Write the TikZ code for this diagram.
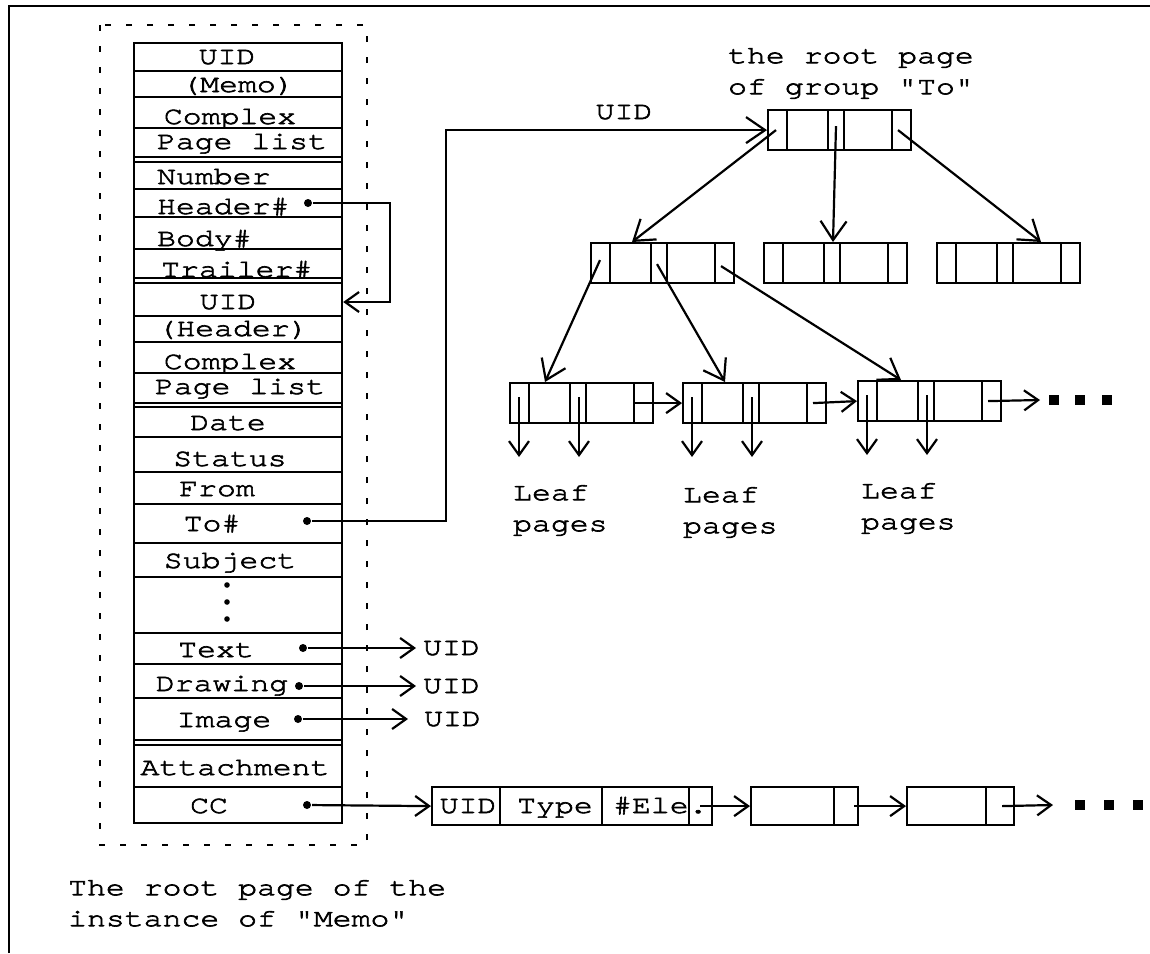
\documentclass[tikz,border=0pt]{standalone}
\usepackage{fontspec}
\setmonofont[FakeStretch=1.26, FakeBold=2.5]{TeX Gyre Cursor}
\usetikzlibrary{arrows.meta, calc}

\tikzset{
  lbl/.style={font=\ttfamily\fontsize{25}{31}\selectfont, inner sep=0pt, text height=14pt, text depth=0pt},
  note/.style={font=\ttfamily\fontsize{25}{31}\selectfont, inner sep=0pt, align=left, anchor=north west},
  ptr/.style={-{Straight Barb[length=14pt,width=20pt]}},
  bigptr/.style={-{Straight Barb[length=19pt,width=26pt]}},
  dot/.style={circle, fill, inner sep=0pt, minimum size=8pt},
  bpage/.style={draw, rectangle, inner sep=0pt, minimum width=143pt, minimum height=40pt, anchor=north west},
  cpage/.style={draw, rectangle, inner sep=0pt, minimum height=38pt, anchor=north west},
}

% one B-tree page: pointer | key | pointer | key | pointer
\newcommand{\bpagenode}[2]{%
  \node[bpage] (#1) at (#2) {};
  \foreach \dx in {20,61,77,125}
    \draw ([xshift=\dx pt]#1.north west) -- ([xshift=\dx pt]#1.south west);
}

\begin{document}
\begin{tikzpicture}[x=1pt, y=-1pt, line width=2.2pt]
  \useasboundingbox (0,0) rectangle (1150,953);
  \draw[line width=2.6pt] (9,953) -- (9,6) -- (1150,6);

  % root page of the instance
  \draw[dash pattern=on 6pt off 15pt, line width=2.2pt] (100,25) rectangle (367,845);
  \node[draw, inner sep=0pt, minimum width=208pt, minimum height=780pt, anchor=north west] (page) at (133,42) {};
  \foreach \y in {71,97,128,157,162,189,217,249,278,283,316,342,373,403,407,437,472,504,543,577,633,664,698,740,745,787}
    \draw (133,\y) -- (341,\y);

  \node[lbl] (uidA) at (227,57) {UID};
  \node[lbl] (memo) at (238,85) {(Memo)};
  \node[lbl] (cplxA) at (230,117) {Complex};
  \node[lbl] (plistA) at (242,142) {Page list};
  \node[lbl, anchor=west] (number) at (156,177) {Number};
  \node[lbl, anchor=west] (header) at (156,207) {Header\#};
  \node[lbl, anchor=west] (body) at (156,239) {Body\#};
  \node[lbl, anchor=west] (trailer) at (160,270) {Trailer\#};
  \node[lbl] (uidB) at (228,302) {UID};
  \node[lbl] (hdr) at (233,329) {(Header)};
  \node[lbl] (cplxB) at (230,362) {Complex};
  \node[lbl] (plistB) at (240,387) {Page list};
  \node[lbl] (date) at (228,423) {Date};
  \node[lbl] (status) at (230,459) {Status};
  \node[lbl] (from) at (217,489) {From};
  \node[lbl] (to) at (212,524) {To\#};
  \node[lbl] (subject) at (230,561) {Subject};
  \foreach \y in {585,602,619}
    \fill (227,\y) circle (2.8pt);
  \node[lbl] (text) at (216,650) {Text};
  \node[lbl] (drawing) at (222,684) {Drawing};
  \node[lbl] (image) at (224,720) {Image};
  \node[lbl] (attach) at (235,768) {Attachment};
  \node[lbl] (cc) at (209,806) {CC};

  \node[note] (caption) at (67,879) {The root page of the\\instance of "Memo"};

  % header link
  \node[dot] (hdrdot) at (308,203) {};
  \draw[ptr] (hdrdot) -- ++(82,0) |- (uidB -| page.east);

  % group "To"
  \bpagenode{root}{767,109}
  \bpagenode{midA}{590,242}
  \bpagenode{midB}{763,242}
  \bpagenode{midC}{936,242}
  \bpagenode{leafA}{509,382}
  \bpagenode{leafB}{682,382}
  \bpagenode{leafC}{857,380}
  \node[note] (rootlbl) at (727,47) {the root page\\of group "To"};

  \node[dot] (todot) at (307,521) {};
  \draw[bigptr] (todot) -- ++(139,0) |- (root.west);
  \node[lbl] (uidlink) at (624,112) {UID};

  \draw[bigptr] ($(root.west)+(9,0)$) -- ($(midA.north west)+(42,0)$);
  \draw[bigptr] ($(root.west)+(69,-4)$) -- ($(midB.north west)+(70,0)$);
  \draw[bigptr] ($(root.west)+(131,0)$) -- ($(midC.north west)+(105,0)$);
  \draw[bigptr] ($(midA.west)+(10,-3)$) -- ($(leafA.north west)+(36,0)$);
  \draw[bigptr] ($(midA.west)+(67,1)$) -- ($(leafB.north west)+(43,0)$);
  \draw[bigptr] ($(midA.west)+(131,3)$) -- ($(leafC.north west)+(44,0)$);

  \draw[ptr] ($(leafA.west)+(125,0)$) -- (leafB.west);
  \draw[ptr] ($(leafB.west)+(131,0)$) -- (leafC.west);
  \coordinate (leafmore) at (1040,400);
  \draw[ptr] ($(leafC.west)+(131,0)$) -- (leafmore);
  \foreach \x in {1054,1080,1107}
    \fill (\x-5,395) rectangle ++(10,10);

  \foreach \n in {leafA,leafB,leafC}
    \foreach \dx in {10,70}
      \draw[ptr] ([xshift=\dx pt, yshift=-15pt]\n.north west) -- ++(0,60);

  \node[note] (leafpgA) at (512,484) {Leaf\\pages};
  \node[note] (leafpgB) at (682,486) {Leaf\\pages};
  \node[note] (leafpgC) at (860,482) {Leaf\\pages};

  % long fields
  \node[dot] (txtdot) at (303,648) {};
  \node[lbl, anchor=west] (uidtxt) at (422,648) {UID};
  \draw[ptr] (txtdot) -- ([xshift=-6pt]uidtxt.west);
  \node[dot] (drwdot) at (299,686) {};
  \node[lbl, anchor=west] (uiddrw) at (422,686) {UID};
  \draw[ptr] (drwdot) -- ([xshift=-6pt]uiddrw.west);
  \node[dot] (imgdot) at (298,719) {};
  \node[lbl, anchor=west] (uidimg) at (423,719) {UID};
  \draw[ptr] (imgdot) -- ([xshift=-15pt]uidimg.west);

  % CC list
  \node[cpage, minimum width=280pt] (ccA) at (431,786) {};
  \foreach \dx in {69,171,258}
    \draw ([xshift=\dx pt]ccA.north west) -- ([xshift=\dx pt]ccA.south west);
  \node[lbl] (ccuid) at (468,806) {UID};
  \node[lbl] (cctype) at (555,806) {Type};
  \node[lbl, anchor=west] (ccele) at (612,806) {\#Ele.};
  \node[cpage, minimum width=107pt] (ccB) at (750,786) {};
  \draw ([xshift=84pt]ccB.north west) -- ([xshift=84pt]ccB.south west);
  \node[cpage, minimum width=107pt] (ccC) at (906,786) {};
  \draw ([xshift=80pt]ccC.north west) -- ([xshift=80pt]ccC.south west);

  \node[dot] (ccdot) at (307,805) {};
  \draw[ptr] (ccdot) -- (ccA.west);
  \draw[ptr] ($(ccA.east)+(-13,0)$) -- (ccB.west);
  \draw[ptr] ($(ccB.east)+(-5,0)$) -- (ccC.west);
  \coordinate (ccmore) at (1053,805);
  \draw[ptr] ($(ccC.east)+(-13,0)$) -- (ccmore);
  \foreach \x in {1080,1109,1138}
    \fill (\x-5,800) rectangle ++(10,10);
\end{tikzpicture}
\end{document}
